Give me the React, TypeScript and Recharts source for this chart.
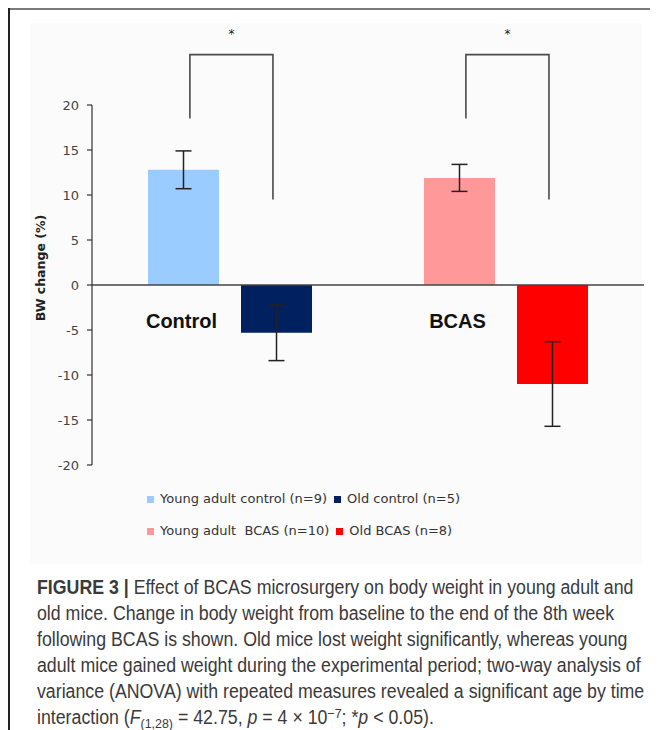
import React from 'react';
import { BarChart, Bar, XAxis, YAxis, Cell, ErrorBar, LabelList, ReferenceLine, Legend } from 'recharts';

const categories = ['Control', 'BCAS'];
const youngValues = [12.8, 11.9];
const youngErrors = [2.1, 1.5];
const oldValues = [-5.3, -11.0];
const oldErrors = [3.1, 4.7];
const youngColors = ['#9ACCFF', '#FF9999'];
const oldColors = ['#002060', '#FF0000'];
const yTicks = [-20, -15, -10, -5, 0, 5, 10, 15, 20];
const legendLabels = [
  ['Young adult control (n=9)', 'Old control (n=5)'],
  ['Young adult  BCAS (n=10)', 'Old BCAS (n=8)'],
];
const legendColors = [
  [youngColors[0], oldColors[0]],
  [youngColors[1], oldColors[1]],
];
const sigMarks = ['*', '*'];
const bracketTop = 25.6;
const bracketLeftEnd = 18.5;
const bracketRightEnd = 9.5;
const starValue = 28.2;

const BAR_SIZE = 71;
const BAR_GAP = 22;

const data = categories.map((c, i) => ({
  category: c,
  young: youngValues[i],
  youngErr: youngErrors[i],
  old: oldValues[i],
  oldErr: oldErrors[i],
}));

const BracketLabel = (props: any) => {
  const vb = props.viewBox || props;
  const x = Number(vb.x ?? props.x);
  const y = Number(vb.y ?? props.y);
  const width = Number(vb.width ?? props.width);
  const height = Number(vb.height ?? props.height);
  const value = Number(props.value);
  let i = typeof props.index === 'number' ? props.index : youngValues.indexOf(value);
  if (i < 0) i = 0;
  const ppu = height / value;
  const zeroY = y + height;
  const toY = (v: number) => zeroY - v * ppu;
  const lx = x + width * 0.59;
  const rx = x + width + BAR_GAP + width * 0.45;
  const stroke = '#4a4a4a';
  return (
    <g>
      <path
        d={`M${lx},${toY(bracketLeftEnd)} L${lx},${toY(bracketTop)} L${rx},${toY(bracketTop)} L${rx},${toY(bracketRightEnd)}`}
        fill="none"
        stroke={stroke}
        strokeWidth={1.6}
      />
      <text
        x={(lx + rx) / 2}
        y={toY(starValue) + 7}
        textAnchor="middle"
        fontFamily="DejaVu Sans"
        fontSize={12}
        fill="#222"
      >
        {sigMarks[i]}
      </text>
      <text
        x={x + width / 2 - 2}
        y={zeroY + 43}
        textAnchor="middle"
        fontFamily="Liberation Sans"
        fontWeight="bold"
        fontSize={20}
        fill="#111"
      >
        {categories[i]}
      </text>
    </g>
  );
};

const YLabel = (props: any) => {
  const vb = props.viewBox || {};
  const cx = 32;
  const cy = Number(vb.y) + Number(vb.height) / 2 - 17;
  return (
    <text
      x={cx}
      y={cy}
      transform={`rotate(-90, ${cx}, ${cy})`}
      textAnchor="middle"
      dominantBaseline="central"
      fontFamily="DejaVu Sans"
      fontWeight="bold"
      fontSize={12.5}
      fill="#222"
    >
      BW change (%)
    </text>
  );
};

const LegendContent = () => (
  <div style={{ fontFamily: 'DejaVu Sans', fontSize: 13, color: '#333', lineHeight: '20px' }}>
    {legendLabels.map((row, r) => (
      <div key={r} style={{ display: 'flex', alignItems: 'center', height: 20, marginBottom: r === 0 ? 12 : 0 }}>
        {row.map((label, k) => (
          <span key={k} style={{ display: 'inline-flex', alignItems: 'center', marginRight: 7 }}>
            <span style={{ display: 'inline-block', width: 7, height: 7, background: legendColors[r][k], marginRight: 6 }} />
            <span style={{ whiteSpace: 'pre' }}>{label}</span>
          </span>
        ))}
      </div>
    ))}
  </div>
);

const subStyle: React.CSSProperties = { fontSize: '0.7em', position: 'relative', top: '0.3em', lineHeight: 0 };
const supStyle: React.CSSProperties = { fontSize: '0.7em', position: 'relative', top: '-0.45em', lineHeight: 0 };

const captionLines: React.ReactNode[] = [
  <>
    <b>FIGURE 3 |</b> Effect of BCAS microsurgery on body weight in young adult and
  </>,
  <>old mice. Change in body weight from baseline to the end of the 8th week</>,
  <>following BCAS is shown. Old mice lost weight significantly, whereas young</>,
  <>adult mice gained weight during the experimental period; two-way analysis of</>,
  <>variance (ANOVA) with repeated measures revealed a significant age by time</>,
  <>
    interaction (<i>F</i>
    <span style={subStyle}>(1,28)</span> = 42.75, <i>p</i> = 4 × 10
    <span style={supStyle}>−7</span>; *<i>p</i> &lt; 0.05).
  </>,
];

export default function App() {
  return (
    <div style={{ position: 'relative', width: 650, height: 722 }}>
      <style>{`html{overflow:hidden;}`}</style>
      <div style={{ position: 'absolute', left: 22, top: 15, width: 612, height: 541, background: '#fbfbfb' }} />
      <div style={{ position: 'absolute', left: 0, top: 0 }}>
        <BarChart
          width={650}
          height={560}
          data={data}
          margin={{ top: 97, right: 14, left: 24, bottom: 47 }}
          barSize={BAR_SIZE}
          barGap={BAR_GAP}
        >
          <XAxis dataKey="category" hide />
          <YAxis
            width={60}
            domain={[-20, 20]}
            ticks={yTicks}
            interval={0}
            tickSize={5}
            tickMargin={8}
            axisLine={{ stroke: '#333', strokeWidth: 1.2 }}
            tickLine={{ stroke: '#333', strokeWidth: 1.2 }}
            tick={{ fontFamily: 'DejaVu Sans', fontSize: 13, fill: '#444' }}
            label={<YLabel />}
          />
          <Bar dataKey="young" isAnimationActive={false}>
            {data.map((d, i) => (
              <Cell key={d.category} fill={youngColors[i]} />
            ))}
            <ErrorBar dataKey="youngErr" width={8} stroke="#222" strokeWidth={1.5} />
            <LabelList dataKey="young" content={<BracketLabel />} />
          </Bar>
          <Bar dataKey="old" isAnimationActive={false}>
            {data.map((d, i) => (
              <Cell key={d.category} fill={oldColors[i]} />
            ))}
            <ErrorBar dataKey="oldErr" width={8} stroke="#222" strokeWidth={1.5} />
          </Bar>
          <ReferenceLine y={0} stroke="#444" strokeWidth={1.5} />
          <Legend
            verticalAlign="bottom"
            content={<LegendContent />}
            wrapperStyle={{ left: 139, top: 481, width: 420, height: 56, bottom: 'auto' }}
          />
        </BarChart>
      </div>
      <div
        style={{
          position: 'absolute',
          left: 29,
          top: 566,
          fontFamily: "'Liberation Sans', Arial, sans-serif",
          fontSize: 19.5,
          lineHeight: '26px',
          color: '#3a3a3a',
          whiteSpace: 'nowrap',
          transform: 'scaleX(0.91)',
          transformOrigin: 'left top',
        }}
      >
        {captionLines.map((l, i) => (
          <div key={i} style={{ height: 26 }}>
            {l}
          </div>
        ))}
      </div>
      <div style={{ position: 'absolute', zIndex: 10, left: 0, top: 0, width: 650, height: 2, background: '#7a7a7a' }} />
      <div style={{ position: 'absolute', zIndex: 10, left: 0, top: 0, width: 1.5, height: 722, background: '#222' }} />
    </div>
  );
}
